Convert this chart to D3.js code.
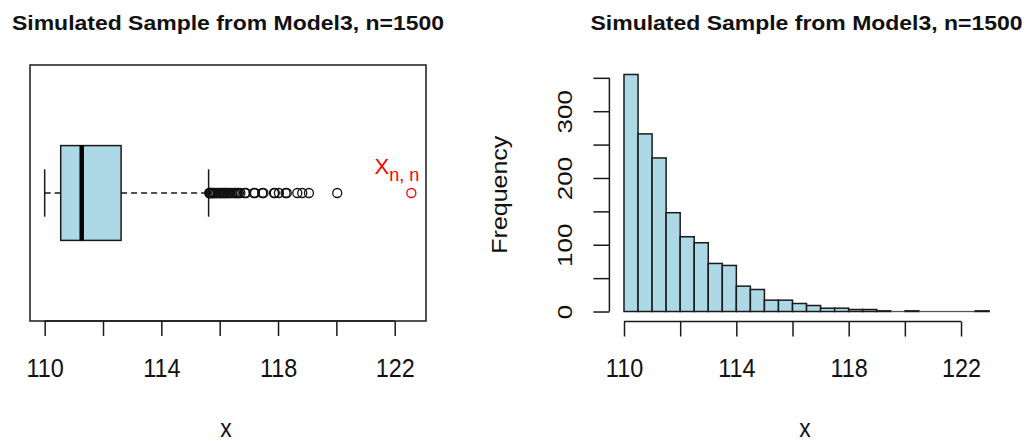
<!DOCTYPE html>
<html>
<head>
<meta charset="utf-8">
<script src="https://cdn.jsdelivr.net/npm/d3@7"></script>
<style>
  html, body { margin: 0; padding: 0; background: #fff; }
  svg { display: block; font-family: "Liberation Sans", Arial, sans-serif; }
</style>
</head>
<body>
<svg id="chart" width="1026" height="441"></svg>
<script>
// ---- data ----
const chartTitle = "Simulated Sample from Model3, n=1500";
// five-number summary of the box: lower whisker, Q1, median, Q3, upper whisker
const boxStats = [110.0, 110.55, 111.27, 112.62, 115.62];
// points beyond the upper whisker (excluding the sample maximum)
const outliers = [
  115.64, 115.66, 115.69, 115.71, 115.74, 115.77, 115.80, 115.84, 115.88, 115.93,
  115.97, 116.01, 116.05, 116.08, 116.12, 116.15, 116.19, 116.23, 116.27, 116.31,
  116.36, 116.42, 116.48, 116.53, 116.58, 116.62, 116.66, 116.71,
  116.86, 116.90, 117.17, 117.21, 117.46, 117.50, 117.86, 117.89, 118.03, 118.26,
  118.30, 118.66, 118.83, 119.06, 120.03
];
const sampleMax = 122.57;           // X_{n,n}, highlighted in red
// histogram: bins of width 0.5 starting at 110
const binStart = 110;
const binWidth = 0.5;
const binCounts = [355, 266, 230, 148, 112, 103, 72, 69, 38, 33, 17, 17, 12, 9,
                   5, 5, 3, 3, 1, 0, 1, 0, 0, 0, 0, 1];
const xTicks = [110, 112, 114, 116, 118, 120, 122];
const xTickLabels = ["110", "", "114", "", "118", "", "122"];
const yTicks = [0, 50, 100, 150, 200, 250, 300, 350];
const yTickLabels = ["0", "", "100", "", "200", "", "300", ""];

// ---- layout ----
const svg = d3.select("#chart");
const ink = "#1a1a1a";
const fill = "#ADD8E6";
const lw = 1.5;
const plotTop = 65, plotBottom = 321;
const ext = (lo, hi) => { const d = (hi - lo) * 0.04; return [lo - d, hi + d]; };

function xAxis(g, scale) {
  g.call(d3.axisBottom(scale).tickValues(xTicks).tickSize(15).tickSizeOuter(0)
          .tickFormat((d, i) => xTickLabels[i]))
   .attr("color", ink);
  g.select("path.domain").remove();
  // axis line spans the first to the last tick only
  g.append("line")
    .attr("x1", scale(xTicks[0])).attr("x2", scale(xTicks[xTicks.length - 1]))
    .attr("stroke", ink).attr("stroke-width", lw);
  g.selectAll(".tick line").attr("stroke-width", lw);
  g.selectAll(".tick text")
    .attr("x", 0).attr("y", 0).attr("dy", null)
    .attr("fill", "#111")
    .attr("font-size", 26)
    .attr("font-family", "Liberation Sans, Arial, sans-serif")
    .attr("transform", "translate(0,55.5) scale(0.9,1)");
}

function title(cx) {
  svg.append("text")
    .attr("x", cx).attr("y", 30)
    .attr("text-anchor", "middle")
    .attr("font-weight", "bold")
    .attr("font-size", 21)
    .attr("textLength", 432)
    .attr("lengthAdjust", "spacingAndGlyphs")
    .attr("fill", "#111")
    .text(chartTitle);
}

function xLabel(cx) {
  svg.append("text")
    .attr("transform", `translate(${cx},436.5) scale(0.88,1)`)
    .attr("text-anchor", "middle")
    .attr("font-size", 26)
    .attr("fill", "#111")
    .text("x");
}

// ---- left panel: horizontal boxplot ----
{
  const left = 30, right = 426;
  const x = d3.scaleLinear().domain(ext(boxStats[0], sampleMax)).range([left, right]);
  const y = d3.scaleLinear().domain(ext(0.5, 1.5)).range([plotBottom, plotTop]);
  const [lo, q1, med, q3, hi] = boxStats;
  const g = svg.append("g");

  // whiskers
  g.append("line").attr("x1", x(lo)).attr("x2", x(q1)).attr("y1", y(1)).attr("y2", y(1))
    .attr("stroke", ink).attr("stroke-width", lw).attr("stroke-dasharray", "6,4");
  g.append("line").attr("x1", x(q3)).attr("x2", x(hi)).attr("y1", y(1)).attr("y2", y(1))
    .attr("stroke", ink).attr("stroke-width", lw).attr("stroke-dasharray", "6,4");
  [lo, hi].forEach(v => {
    g.append("line").attr("x1", x(v)).attr("x2", x(v)).attr("y1", y(0.9)).attr("y2", y(1.1))
      .attr("stroke", ink).attr("stroke-width", lw);
  });

  // box and median
  g.append("rect").attr("x", x(q1)).attr("width", x(q3) - x(q1))
    .attr("y", y(1.2)).attr("height", y(0.8) - y(1.2))
    .attr("fill", fill).attr("stroke", ink).attr("stroke-width", lw);
  g.append("line").attr("x1", x(med)).attr("x2", x(med)).attr("y1", y(1.2)).attr("y2", y(0.8))
    .attr("stroke", "#000").attr("stroke-width", 4.5);

  // outliers
  g.selectAll("circle.out").data(outliers).join("circle")
    .attr("class", "out")
    .attr("cx", d => x(d)).attr("cy", y(1)).attr("r", 4.5)
    .attr("fill", "none").attr("stroke", "#111").attr("stroke-width", 1.3);

  // sample maximum in red with its label
  g.append("circle").attr("cx", x(sampleMax)).attr("cy", y(1)).attr("r", 4.5)
    .attr("fill", "none").attr("stroke", "#ff0000").attr("stroke-width", 1.3);
  const lab = g.append("text")
    .attr("x", x(sampleMax) + 8).attr("y", y(1) - 19)
    .attr("text-anchor", "end").attr("fill", "#ff0000");
  lab.append("tspan").attr("font-size", 22).text("X");
  lab.append("tspan").attr("font-size", 18).attr("dy", 6.5).text("n, n");

  // frame and axis
  g.append("rect").attr("x", left).attr("y", plotTop)
    .attr("width", right - left).attr("height", plotBottom - plotTop)
    .attr("fill", "none").attr("stroke", ink).attr("stroke-width", lw);
  svg.append("g").attr("transform", `translate(0,${plotBottom})`).call(xAxis, x);

  title((left + right) / 2);
  xLabel(226);
}

// ---- right panel: histogram ----
{
  const left = 609.4, right = 1003.7;
  const binEnd = binStart + binWidth * binCounts.length;
  const x = d3.scaleLinear().domain(ext(binStart, binEnd)).range([left, right]);
  const y = d3.scaleLinear().domain(ext(0, d3.max(binCounts))).range([plotBottom, plotTop]);
  const bins = binCounts.map((c, i) => ({ x0: binStart + i * binWidth, x1: binStart + (i + 1) * binWidth, c }));

  const bars = svg.append("g");
  bars.selectAll("rect").data(bins.filter(d => d.c > 0)).join("rect")
    .attr("x", d => x(d.x0)).attr("width", d => x(d.x1) - x(d.x0))
    .attr("y", d => y(d.c)).attr("height", d => y(0) - y(d.c))
    .attr("fill", fill).attr("stroke", ink).attr("stroke-width", lw);
  // empty bins collapse to a line on the baseline
  bars.selectAll("line").data(bins.filter(d => d.c === 0)).join("line")
    .attr("x1", d => x(d.x0)).attr("x2", d => x(d.x1))
    .attr("y1", y(0)).attr("y2", y(0))
    .attr("stroke", "#555").attr("stroke-width", 1.3);

  // x axis
  svg.append("g").attr("transform", `translate(0,${plotBottom + 0.5})`).call(xAxis, x);

  // y axis
  const ya = svg.append("g").attr("transform", `translate(${left},0)`)
    .call(d3.axisLeft(y).tickValues(yTicks).tickSize(16).tickSizeOuter(0)
           .tickFormat((d, i) => yTickLabels[i]))
    .attr("color", ink);
  ya.select("path.domain").remove();
  ya.append("line")
    .attr("y1", y(yTicks[0])).attr("y2", y(yTicks[yTicks.length - 1]))
    .attr("stroke", ink).attr("stroke-width", lw);
  ya.selectAll(".tick line").attr("stroke-width", lw);
  ya.selectAll(".tick text")
    .attr("x", 0).attr("y", 0).attr("dy", null)
    .attr("text-anchor", "middle")
    .attr("fill", "#111")
    .attr("font-size", 26)
    .attr("font-family", "Liberation Sans, Arial, sans-serif")
    .attr("transform", "translate(-37.7,0) scale(0.8,1) rotate(-90)");

  svg.append("text")
    .attr("transform", `translate(507,${(y(0) + y(350)) / 2}) scale(0.85,1) rotate(-90)`)
    .attr("text-anchor", "middle")
    .attr("font-size", 25)
    .attr("fill", "#111")
    .text("Frequency");

  title((left + right) / 2);
  xLabel(805);
}
</script>
</body>
</html>
